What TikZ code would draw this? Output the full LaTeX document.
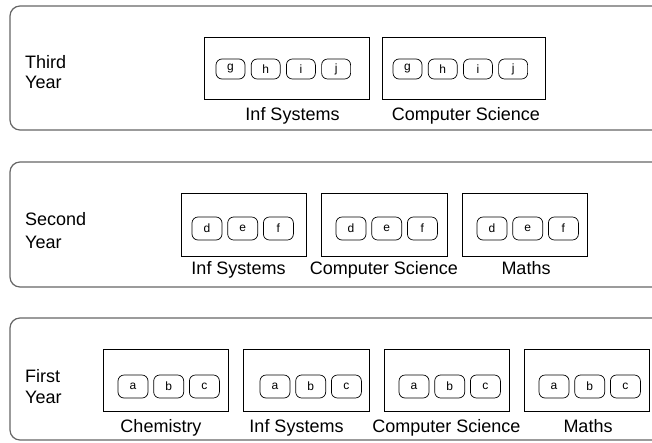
\documentclass[tikz,border=0pt]{standalone}
\usepackage{fontspec}
\setmainfont{Liberation Sans}
\usetikzlibrary{positioning}

\begin{document}
\begin{tikzpicture}[x=1pt, y=-1pt,
  yearbox/.style={draw=black!60, line width=1.2pt, rounded corners=10pt},
  course/.style={draw, line width=0.7pt, inner sep=0pt, minimum width=125pt, minimum height=62pt},
  chip/.style={draw, line width=0.7pt, rounded corners=6pt, inner sep=0pt,
    minimum width=30pt, minimum height=23pt, font=\fontsize{12}{13}\selectfont},
  smallchip/.style={chip, minimum width=29pt, minimum height=20pt},
  lbl/.style={inner sep=0pt, text height=13pt, text depth=4pt, font=\fontsize{18}{20}\selectfont},
  yearlbl/.style={inner sep=0pt, align=left, anchor=base west, font=\fontsize{18}{#1}\selectfont}]
\useasboundingbox (0,0) rectangle (652,442);

% third year
\draw[yearbox] (653,6) -- (10,6) -- (10,130) -- (653,130);
\node[yearlbl=20] (third) at (25,88) {Third\\Year};
\node[course, minimum width=165pt] (isT) at (286.5,68) {};
\node[smallchip, right=12pt of isT.west, yshift=-1pt] (isTg) {g};
\node[smallchip, right=5.5pt of isTg] (isTh) {h};
\node[smallchip, right=5.5pt of isTh] (isTi) {i};
\node[smallchip, right=5.5pt of isTi] (isTj) {j};
\node[lbl, below=8pt of isT, xshift=6pt] (isTl) {Inf Systems};
\node[course, minimum width=163pt] (csT) at (463.5,68) {};
\node[smallchip, right=11pt of csT.west, yshift=-1pt] (csTg) {g};
\node[smallchip, right=5.5pt of csTg] (csTh) {h};
\node[smallchip, right=5.5pt of csTh] (csTi) {i};
\node[smallchip, right=5.5pt of csTi] (csTj) {j};
\node[lbl, below=8pt of csT, xshift=2.5pt] (csTl) {Computer Science};

% second year
\draw[yearbox] (653,162) -- (10,162) -- (10,287) -- (653,287);
\node[yearlbl=23] (second) at (25,248) {Second\\Year};
\node[course, minimum height=63pt] (isS) at (243.5,224.5) {};
\node[chip, right=11pt of isS.west, yshift=-4pt] (isSd) {d};
\node[chip, right=5pt of isSd] (isSe) {e};
\node[chip, right=5pt of isSe] (isSf) {f};
\node[lbl, below=5pt of isS, xshift=-5pt] (isSl) {Inf Systems};
\node[course, minimum height=63pt, minimum width=126pt] (csS) at (384,224.5) {};
\node[chip, right=15pt of csS.west, yshift=-4pt] (csSd) {d};
\node[chip, right=5pt of csSd] (csSe) {e};
\node[chip, right=5pt of csSe] (csSf) {f};
\node[lbl, below=5pt of csS] (csSl) {Computer Science};
\node[course, minimum height=63pt] (maS) at (524.5,224.5) {};
\node[chip, right=15pt of maS.west, yshift=-4pt] (maSd) {d};
\node[chip, right=5pt of maSd] (maSe) {e};
\node[chip, right=5pt of maSe] (maSf) {f};
\node[lbl, below=5pt of maS, xshift=1.5pt] (maSl) {Maths};

% first year
\draw[yearbox] (653,318) -- (10,318) -- (10,440) -- (653,440);
\node[yearlbl=21] (first) at (25,403) {First\\Year};
\node[course] (chF) at (165.5,380) {};
\node[chip, right=15pt of chF.west, yshift=-6.5pt] (chFa) {a};
\node[chip, right=5pt of chFa] (chFb) {b};
\node[chip, right=5pt of chFb] (chFc) {c};
\node[lbl, below=8pt of chF, xshift=-4.5pt] (chFl) {Chemistry};
\node[course, minimum width=126pt] (isF) at (306,380) {};
\node[chip, right=17pt of isF.west, yshift=-6.5pt] (isFa) {a};
\node[chip, right=5pt of isFa] (isFb) {b};
\node[chip, right=5pt of isFb] (isFc) {c};
\node[lbl, below=8pt of isF, xshift=-9.5pt] (isFl) {Inf Systems};
\node[course] (csF) at (446.5,380) {};
\node[chip, right=15pt of csF.west, yshift=-6.5pt] (csFa) {a};
\node[chip, right=5pt of csFa] (csFb) {b};
\node[chip, right=5pt of csFb] (csFc) {c};
\node[lbl, below=8pt of csF] (csFl) {Computer Science};
\node[course] (maF) at (586.5,380) {};
\node[chip, right=15pt of maF.west, yshift=-6.5pt] (maFa) {a};
\node[chip, right=5pt of maFa] (maFb) {b};
\node[chip, right=5pt of maFb] (maFc) {c};
\node[lbl, below=8pt of maF, xshift=1.5pt] (maFl) {Maths};
\end{tikzpicture}
\end{document}
